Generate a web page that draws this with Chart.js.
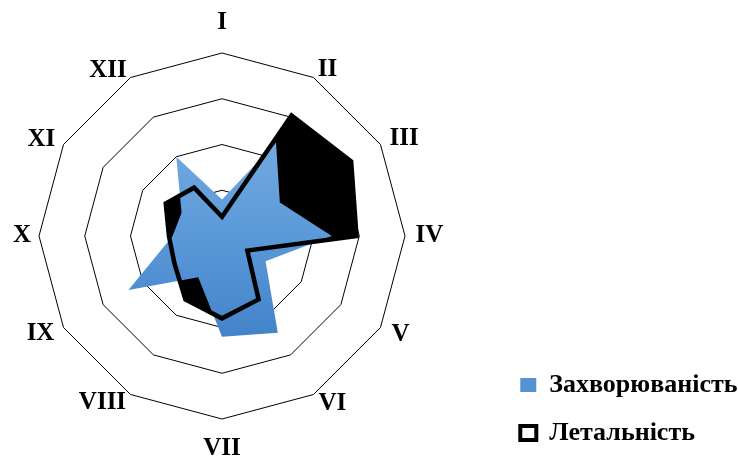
<!DOCTYPE html>
<html lang="uk">
<head>
<meta charset="utf-8">
<script src="https://cdn.jsdelivr.net/npm/chart.js@4/dist/chart.umd.min.js"></script>
<style>
  html, body { margin: 0; padding: 0; background: #ffffff; overflow: hidden; }
  #wrap { width: 738px; height: 457px; overflow: hidden; }
  canvas { display: block; }
</style>
</head>
<body>
<div id="wrap"><canvas id="chart" width="738" height="468"></canvas></div>
<script>
// Months of the year (axes of the radar)
const months = ['I', 'II', 'III', 'IV', 'V', 'VI', 'VII', 'VIII', 'IX', 'X', 'XI', 'XII'];

// Monthly share of the yearly total, %
const morbidity = [4.0, 11.8, 7.3, 12.0, 5.5, 12.2, 11.0, 5.2, 11.8, 5.4, 5.1, 10.0];
const lethality = [2.1, 15.2, 16.3, 14.7, 3.2, 8.0, 9.0, 8.0, 6.0, 5.8, 7.1, 6.1];

const seriesNames = ['Захворюваність', 'Летальність'];

// Radial axis range and ring step
const scaleMin = 0;
const scaleMax = 20;
const scaleStep = 5;

// Distance of each month label from the outer ring, px
const pointLabelPadding = [17.5, 8.3, 10.5, 10.6, 12.6, 9.9, 17.5, 8.8, 10.5, 8, 9.6, 7.5];

const serif = "'Liberation Serif', 'Times New Roman', serif";

// Empty layout boxes: a gap between the radar and the legend, and a strip under the radar
function spacer(position, size) {
  return {
    position, weight: 500, fullSize: false, options: {},
    left: 0, top: 0, right: 0, bottom: 0, width: 0, height: 0,
    isHorizontal() { return position === 'top' || position === 'bottom'; },
    update(maxWidth, maxHeight) {
      if (this.isHorizontal()) { this.width = maxWidth; this.height = size; }
      else { this.width = size; this.height = maxHeight; }
      return {};
    },
    draw() {}
  };
}
const spacers = {
  id: 'spacers',
  beforeInit(chart) {
    Chart.layouts.addBox(chart, spacer('right', 40));
    Chart.layouts.addBox(chart, spacer('bottom', 6.5));
  }
};

// Drop shadow under the morbidity area
const areaShadow = {
  id: 'areaShadow',
  beforeDatasetDraw(chart, args) {
    if (chart.data.datasets[args.index].dropShadow) {
      const ctx = chart.ctx;
      ctx.save();
      ctx.shadowColor = 'rgba(0,0,0,0.95)';
      ctx.shadowOffsetX = 2;
      ctx.shadowOffsetY = 3;
      ctx.shadowBlur = 1;
    }
  },
  afterDatasetDraw(chart, args) {
    if (chart.data.datasets[args.index].dropShadow) chart.ctx.restore();
  }
};

function blueGradient(context) {
  const chart = context.chart;
  const r = chart.scales.r;
  if (!r || !chart.chartArea) return '#5b9bd5';
  const g = chart.ctx.createLinearGradient(0, r.yCenter - r.drawingArea * 0.55, 0, r.yCenter + r.drawingArea * 0.58);
  g.addColorStop(0, '#74abe1');
  g.addColorStop(0.5, '#5a98d8');
  g.addColorStop(1, '#4282c8');
  return g;
}

new Chart(document.getElementById('chart'), {
  type: 'radar',
  data: {
    labels: months,
    datasets: [
      {
        // filled lethality area, underneath
        label: seriesNames[1] + ' (area)',
        data: lethality,
        backgroundColor: '#000000',
        borderWidth: 0,
        fill: true,
        pointRadius: 0,
        order: 3
      },
      {
        label: seriesNames[0],
        data: morbidity,
        backgroundColor: blueGradient,
        borderWidth: 0,
        fill: true,
        pointRadius: 0,
        dropShadow: true,
        order: 2
      },
      {
        // lethality outline on top
        label: seriesNames[1],
        data: lethality,
        backgroundColor: 'rgba(0,0,0,0)',
        borderColor: '#000000',
        borderWidth: 4.5,
        borderJoinStyle: 'miter',
        fill: false,
        pointRadius: 0,
        order: 1
      }
    ]
  },
  options: {
    responsive: false,
    animation: false,
    events: [],
    layout: { padding: { left: 0, right: -9.5, top: 10.5, bottom: 0 } },
    elements: { line: { tension: 0 } },
    scales: {
      r: {
        min: scaleMin,
        max: scaleMax,
        beginAtZero: true,
        ticks: { display: false, stepSize: scaleStep },
        angleLines: { display: false },
        grid: { color: '#000000', lineWidth: 1, circular: false },
        pointLabels: {
          color: '#000000',
          padding: (c) => pointLabelPadding[c.index],
          // labels on the vertical axis keep a full line box; the others are centred on their anchor
          font: (c) => ({ family: serif, size: 25, weight: 'bold', lineHeight: (c.index % 6 === 0) ? 1 : 0.04 })
        }
      }
    },
    plugins: {
      tooltip: { enabled: false },
      legend: {
        position: 'right',
        align: 'end',
        maxWidth: 320,
        labels: {
          color: '#000000',
          boxWidth: 16,
          boxHeight: 14,
          padding: 22,
          font: { family: serif, size: 26, weight: 'bold' },
          generateLabels() {
            return [
              { text: seriesNames[0], fillStyle: '#5393d4', strokeStyle: '#5393d4', lineWidth: 0, hidden: false, datasetIndex: 1 },
              { text: seriesNames[1], fillStyle: '#ffffff', strokeStyle: '#000000', lineWidth: 4, lineJoin: 'miter', hidden: false, datasetIndex: 2 }
            ];
          }
        }
      }
    }
  },
  plugins: [spacers, areaShadow]
});
</script>
</body>
</html>
